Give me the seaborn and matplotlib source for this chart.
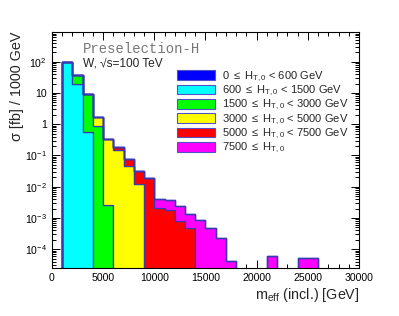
import numpy as np
import pandas as pd
import seaborn as sns
import matplotlib
matplotlib.use("Agg")
import matplotlib.pyplot as plt
from matplotlib.patches import Patch
from matplotlib.ticker import FixedLocator, FuncFormatter, LogLocator, NullFormatter

# bin centres [GeV] and cross sections [fb / 1000 GeV] per H_T,0 slice
blue_m = [1500]
blue_w = [5.0]
cyan_m = [1500, 2500, 3500]
cyan_w = [95.0, 19.0, 0.55]
green_m = [2500, 3500, 4500, 5500]
green_w = [18.5, 8.5, 0.89, 2.55e-3]
yellow_m = [4500, 5500, 6500, 7500, 8500]
yellow_w = [0.84, 0.34, 0.148, 0.046, 0.012]
red_m = [6500, 7500, 8500, 9500, 10500, 11500, 12500, 13500]
red_w = [0.032, 0.032, 0.020, 0.0183, 2.15e-3, 1.86e-3, 7.8e-4, 4.9e-4]
magenta_m = [10500, 11500, 12500, 13500, 14500, 15500, 16500, 17500, 21500, 24500, 25500]
magenta_w = [1.75e-3, 2.0e-3, 1.7e-3, 8.9e-4, 8.6e-4, 4.8e-4, 2.3e-4, 4.1e-5, 5.9e-5, 5.4e-5, 5.4e-5]

labels = [
    r"0 $\leq$ H$_{\rm T,0}$ < 600 GeV",
    r"600 $\leq$ H$_{\rm T,0}$ < 1500 GeV",
    r"1500 $\leq$ H$_{\rm T,0}$ < 3000 GeV",
    r"3000 $\leq$ H$_{\rm T,0}$ < 5000 GeV",
    r"5000 $\leq$ H$_{\rm T,0}$ < 7500 GeV",
    r"7500 $\leq$ H$_{\rm T,0}$",
]
colors = ["#0000FF", "#00FFFF", "#00FF00", "#FFFF00", "#FF0000", "#FF00FF"]
y_ticks = [1e-4, 1e-3, 1e-2, 1e-1, 1, 10, 100]

parts = []
for lab, m, w in zip(labels,
                     [blue_m, cyan_m, green_m, yellow_m, red_m, magenta_m],
                     [blue_w, cyan_w, green_w, yellow_w, red_w, magenta_w]):
    parts.append(pd.DataFrame({"meff": m, "xsec": w, "slice": lab}))
df = pd.concat(parts, ignore_index=True)

sns.set_style("ticks")
plt.rcParams["font.family"] = ["Liberation Sans", "DejaVu Sans"]
plt.rcParams["mathtext.fontset"] = "custom"
plt.rcParams["mathtext.rm"] = "Liberation Sans"
plt.rcParams["mathtext.it"] = "Liberation Sans:italic"
plt.rcParams["mathtext.sf"] = "Liberation Sans"

fig = plt.figure(figsize=(3.99, 3.16), dpi=100)
ax = fig.add_axes([0.130, 0.152, 0.770, 0.747])

edge_col = "#3a3ab0"
# seaborn puts the first hue level on top of the stack
stack_order = [labels[0]] + labels[:0:-1]
sns.histplot(data=df, x="meff", weights="xsec", hue="slice",
             hue_order=stack_order, palette=dict(zip(labels, colors)),
             multiple="stack", element="step", binwidth=1000, binrange=(0, 30000),
             alpha=1, edgecolor=edge_col, linewidth=0.9, legend=False, ax=ax)

ax.set_yscale("log")
ax.set_xlim(0, 30000)
ax.set_ylim(2.5e-5, 900)

ax.xaxis.set_major_locator(FixedLocator(np.arange(0, 30001, 5000)))
ax.xaxis.set_minor_locator(FixedLocator(np.arange(0, 30001, 1000)))
ax.yaxis.set_major_locator(FixedLocator(y_ticks))
ax.yaxis.set_minor_locator(LogLocator(base=10, subs=np.arange(2, 10), numticks=20))
ax.yaxis.set_minor_formatter(NullFormatter())


def yfmt(v, pos):
    e = int(round(np.log10(v)))
    if e == 0:
        return "1"
    if e == 1:
        return "10"
    return r"10$^{%d}$" % e


ax.yaxis.set_major_formatter(FuncFormatter(yfmt))
ax.tick_params(which="both", direction="in", top=True, right=True,
               labelsize=7.6, width=0.7, colors="black")
ax.tick_params(which="major", length=5.5)
ax.tick_params(which="minor", length=2.8)
for s in ax.spines.values():
    s.set_linewidth(0.8)
    s.set_color("black")

ax.set_xlabel(r"m$_{\rm eff}$ (incl.) [GeV]", loc="right", fontsize=10.4, labelpad=2)
ax.set_ylabel("σ [fb] / 1000 GeV", loc="top", fontsize=10.4, labelpad=0.5)

fig.text(0.208, 0.832, "Preselection-H", family=["Liberation Mono", "DejaVu Sans Mono"],
         fontsize=10, color="#777777", va="baseline")
fig.text(0.208, 0.788, "W, √s=100 TeV", fontsize=8.6, va="baseline")

handles = [Patch(facecolor=c, edgecolor="#5050c8", linewidth=0.8) for c in colors]
ax.legend(handles, labels, loc="upper left", bbox_to_anchor=(0.443, 0.780),
          bbox_transform=fig.transFigure, frameon=False, fontsize=8.0,
          borderaxespad=0, borderpad=0, handlelength=3.4, handleheight=0.95,
          handletextpad=0.7, labelspacing=0.0)

fig.savefig("out.png", dpi=100, facecolor="white")
